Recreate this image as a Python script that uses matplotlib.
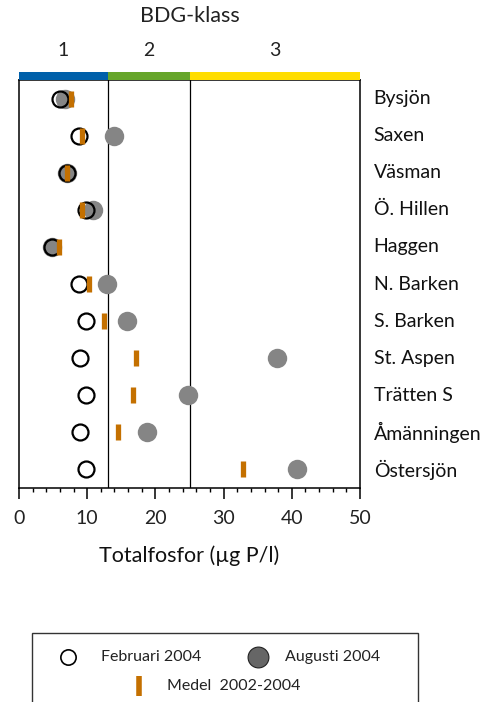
import matplotlib
matplotlib.use("Agg")
import matplotlib.pyplot as plt
from matplotlib.patches import Rectangle
from matplotlib.ticker import MultipleLocator

plt.rcParams['font.family'] = ['Lato', 'DejaVu Sans']

lakes = ["Bysjön", "Saxen", "Väsman", "Ö. Hillen", "Haggen", "N. Barken",
         "S. Barken", "St. Aspen", "Trätten S", "Åmänningen", "Östersjön"]
feb_2004 = [6.0, 8.8, 7.0, 9.8, 4.8, 8.8, 9.8, 8.9, 9.8, 8.9, 9.8]
aug_2004 = [6.7, 13.9, 7.0, 10.8, 4.9, 12.9, 15.9, 37.8, 24.8, 18.8, 40.7]
medel_2002_2004 = [7.6, 9.3, 7.0, 9.3, 5.9, 10.3, 12.4, 17.2, 16.7, 14.5, 32.8]

class_edges = [0, 13, 25, 50]
class_labels = ["1", "2", "3"]
class_colors = ["#0060AA", "#66A52A", "#FFDD00"]

xticks = [0, 10, 20, 30, 40, 50]

W, H = 482, 702
fig = plt.figure(figsize=(W / 100, H / 100), dpi=100)
ax = fig.add_axes([19 / W, 1 - 488 / H, (360 - 19) / W, (488 - 80) / H])

ypos = list(range(1, len(lakes) + 1))

# class boundaries
for b in class_edges[1:-1]:
    ax.axvline(b, color="black", lw=0.9, zorder=1)

ax.plot(aug_2004, ypos, 'o', ms=14, mfc="#858585", mec="none", zorder=3)
ax.plot(feb_2004, ypos, 'o', ms=11.5, mfc="none", mec="black", mew=1.6, zorder=4)
ax.plot(medel_2002_2004, ypos, '|', ms=12, mec="#C47000", mew=3.8, zorder=5)

ax.set_xlim(0, 50)
ax.set_ylim(len(lakes) + 0.5, 0.5)
ax.set_yticks([])
ax.set_xticks(xticks)
ax.set_xticklabels([str(t) for t in xticks], fontsize=14, color="#222222")
ax.xaxis.set_minor_locator(MultipleLocator(2))
ax.tick_params(axis='x', which='major', length=8, width=1.1, direction='out', pad=8)
ax.tick_params(axis='x', which='minor', length=3, width=1.0, direction='out')
for s in ax.spines.values():
    s.set_linewidth(1.1)

for y, name in zip(ypos, lakes):
    ax.text(1.04, y, name, transform=ax.get_yaxis_transform(), ha='left', va='center',
            fontsize=14, color="#111111")

# BDG class colour bar
trans = ax.get_xaxis_transform()
for i, lab in enumerate(class_labels):
    x0, x1 = class_edges[i], class_edges[i + 1]
    ax.add_patch(Rectangle((x0, 1.0), x1 - x0, 8 / 408, transform=trans,
                           facecolor=class_colors[i], edgecolor='none', clip_on=False, zorder=6))
    ax.text((x0 + x1) / 2, 1.0735, lab, transform=trans, ha='center', va='center',
            fontsize=14, color="#222222")
ax.text(0.5, 1.156, "BDG-klass", transform=ax.transAxes, ha='center', va='center',
        fontsize=15.5, color="#222222")

ax.set_xlabel("Totalfosfor (µg P/l)", fontsize=15.5, color="#111111", labelpad=13)

# legend box
lax = fig.add_axes([0, 0, 1, 1], facecolor='none')
lax.set_xlim(0, W)
lax.set_ylim(H, 0)
lax.axis('off')
lax.add_patch(Rectangle((32, 633), 386, 80, facecolor='white', edgecolor='#333333', lw=1.0,
                        clip_on=False))
lax.plot([68], [657], 'o', ms=11, mfc='white', mec='black', mew=1.2)
lax.text(101, 657, "Februari 2004", ha='left', va='center', fontsize=11.5, color="#222222")
lax.plot([258], [657], 'o', ms=15, mfc='#666666', mec='#222222', mew=0.8)
lax.text(285, 657, "Augusti 2004", ha='left', va='center', fontsize=11.5, color="#222222")
lax.plot([139], [686], '|', ms=14, mec="#C47000", mew=4)
lax.text(167, 686, "Medel  2002-2004", ha='left', va='center', fontsize=11.5, color="#222222")

fig.savefig("out.png", dpi=100)
